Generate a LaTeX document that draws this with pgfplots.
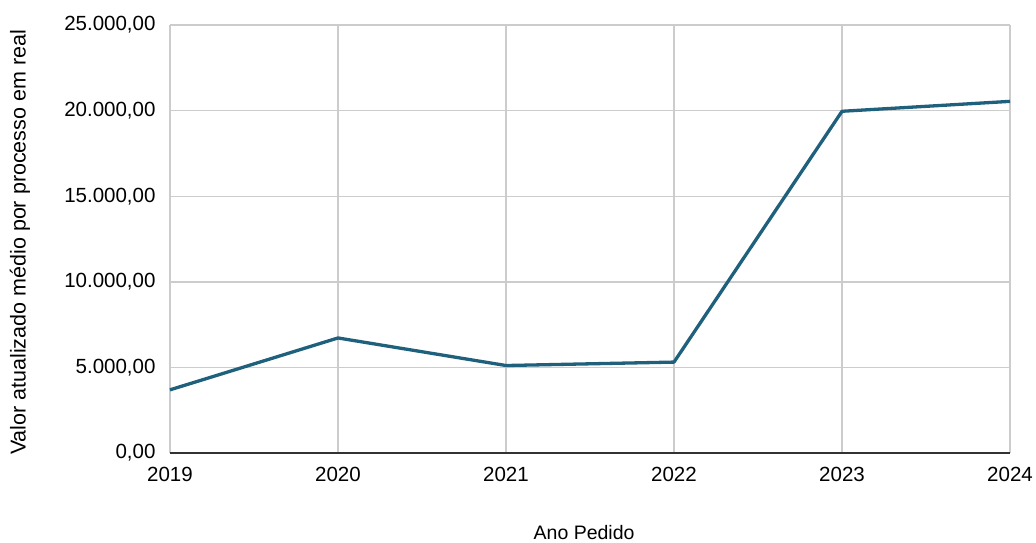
\documentclass[border=0pt]{standalone}
\usepackage{pgfplots}
\pgfplotsset{compat=1.18}
\usepackage{fontspec}
\setmainfont{Liberation Sans}
\definecolor{linec}{RGB}{31,96,125}
\definecolor{gridc}{RGB}{204,204,204}
\definecolor{axc}{RGB}{50,50,50}
\begin{document}
\begin{tikzpicture}
\begin{axis}[
  scale only axis,
  width=840pt, height=428pt,
  xmin=2019, xmax=2024,
  ymin=0, ymax=25000,
  xtick={2019,2020,2021,2022,2023,2024},
  xticklabels={2019,2020,2021,2022,2023,2024},
  ytick={0,5000,10000,15000,20000,25000},
  scaled y ticks=false,
  /pgf/number format/assume math mode=true,
  yticklabel={\pgfmathprintnumber[fixed,fixed zerofill,precision=2,use comma,1000 sep={.},min exponent for 1000 sep=0,assume math mode=true]{\tick}},
  tick label style={font=\fontsize{20.5}{24}\selectfont},
  yticklabel style={xshift=-11pt},
  xticklabel style={yshift=-11pt},
  major tick length=0pt,
  grid=major,
  major grid style={gridc, line width=1.4pt},
  axis x line*=bottom,
  axis y line*=left,
  x axis line style={axc, line width=1.4pt, -},
  y axis line style={draw=none},
  xlabel={Ano Pedido},
  ylabel={Valor atualizado médio por processo em real},
  xlabel style={font=\fontsize{19.5}{23}\selectfont, at={(axis description cs:0.493,-0.186)}, anchor=center},
  ylabel style={font=\fontsize{21.5}{25}\selectfont, at={(axis description cs:-0.1786,0.492)}, anchor=center},
  clip=false,
]
\addplot[linec, line width=3.3pt, line join=round] coordinates {
  (2019,3690) (2020,6720) (2021,5110) (2022,5310) (2023,19960) (2024,20540)
};
\end{axis}
\pgfresetboundingbox
\path (-170pt,-89pt) rectangle (866pt,453pt);
\end{tikzpicture}
\end{document}
